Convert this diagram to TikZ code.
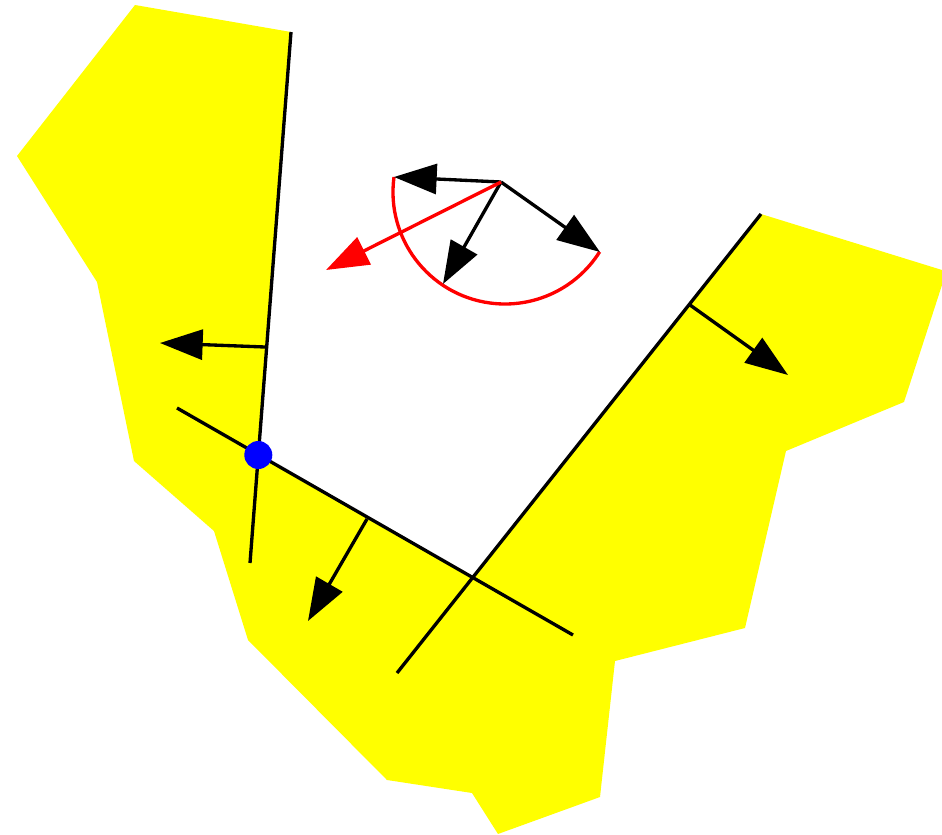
\documentclass[tikz,border=0pt]{standalone}
\usepackage{tikz}
\usetikzlibrary{arrows.meta}
\usepackage{xcolor}
\definecolor{regionYellow}{RGB}{255,255,0}
\definecolor{vertexBlue}{RGB}{0,0,255}
\definecolor{sweepRed}{RGB}{255,0,0}

\begin{document}
\begin{tikzpicture}[
        x=0.03cm, y=-0.03cm,
        edgeLine/.style={draw=black, line width=0.1cm},
        normalArrow/.style={-{Triangle[length=1.28cm, width=0.9cm]}, line width=0.1cm, draw=black},
        sweepArrow/.style={normalArrow, draw=sweepRed}
    ]
        \useasboundingbox (0,0) rectangle (942,835);

        % Region
        \fill[regionYellow] (135,5) -- (291,32) -- (258.3,455) -- (472.5,577) -- (761,214)
            -- (942,270) -- (942,285) -- (904,402) -- (786,451) -- (745,628)
            -- (615,661) -- (600,797) -- (498,834) -- (472,793) -- (387,780)
            -- (248,640) -- (214,531) -- (134,461) -- (97,282) -- (17,156) -- cycle;

        % Edges
        \coordinate (leftTop) at (291,32);
        \coordinate (leftBot) at (250,563);
        \coordinate (diagA) at (177,408);
        \coordinate (diagB) at (573,635);
        \coordinate (rightTop) at (761,214);
        \coordinate (rightBot) at (397,673);
        \draw[edgeLine] (leftTop) -- (leftBot);
        \draw[edgeLine] (diagA) -- (diagB);
        \draw[edgeLine] (rightTop) -- (rightBot);

        % Normals
        \coordinate (leftFoot) at (265,347);
        \coordinate (leftTip) at (160,343);
        \coordinate (diagFoot) at (367,519);
        \coordinate (diagTip) at (308,621);
        \coordinate (rightFoot) at (690,305);
        \coordinate (rightTip) at (788,375);
        \draw[normalArrow] (leftFoot) -- (leftTip);
        \draw[normalArrow] (diagFoot) -- (diagTip);
        \draw[normalArrow] (rightFoot) -- (rightTip);

        % Vertex
        \node[circle, fill=vertexBlue, inner sep=0pt, minimum size=0.84cm] (vertex) at (258.3,455) {};

        % Cone of directions
        \coordinate (hub) at (501,182);
        \coordinate (coneL) at (394,177);
        \coordinate (coneM) at (443,284);
        \coordinate (coneR) at (600,252);
        \coordinate (pick) at (326,270);
        \draw[sweepRed, line width=0.1cm] (coneL) arc[start angle=187.7, end angle=32.3, radius=112];
        \draw[normalArrow] (hub) -- (coneL);
        \draw[normalArrow] (hub) -- (coneM);
        \draw[normalArrow] (hub) -- (coneR);
        \draw[sweepArrow] (hub) -- (pick);
\end{tikzpicture}
\end{document}
